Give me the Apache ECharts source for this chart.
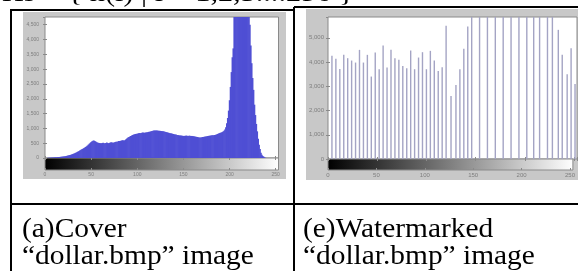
<!DOCTYPE html>
<html><head><meta charset="utf-8">
<script src="https://cdn.jsdelivr.net/npm/echarts@6/dist/echarts.min.js"></script>
<style>html,body{margin:0;padding:0;background:#fff}#c{width:578px;height:271px}</style>
</head><body><div id="c"></div>
<script>
// ---- data ----
// Cover image histogram: counts for gray levels 0..255 (peak above axis top is estimated)
const coverCounts = [
0,0,2,5,8,10,12,14,16,18,
20,22,25,28,30,33,36,40,44,48,
52,56,62,68,75,82,90,100,110,120,
132,145,158,172,188,205,222,240,258,275,
292,310,330,350,372,395,420,450,480,510,
540,565,585,590,575,555,535,520,510,505,
500,498,505,512,500,495,510,520,505,500,
510,525,530,520,515,525,540,550,545,560,
570,575,580,590,600,595,590,610,640,670,
690,710,725,740,760,775,790,800,810,815,
820,830,840,835,845,850,860,855,850,860,
865,870,880,885,890,900,910,920,925,930,
928,930,925,920,918,915,910,905,900,895,
890,880,870,860,850,840,835,830,820,810,
800,795,790,780,775,770,760,760,755,750,
745,745,750,755,750,745,748,750,746,745,
740,735,728,720,715,710,700,692,690,695,
700,705,712,720,725,730,740,745,750,755,
760,765,770,772,778,785,795,810,825,840,
850,860,875,895,920,960,1040,1170,1350,1600,
1950,2400,2900,3400,3700,4900,5600,6200,7000,7800,
8200,8500,8700,8800,8700,8500,8200,7800,7200,6600,
5600,5000,4500,3800,3200,2700,2300,1800,1450,1150,
900,650,450,300,180,110,70,45,20,5,
0,0,0,0,0,0,0,0,0,0,0,0,0,0,0,0
];
// Watermarked image histogram: occupied gray levels and their counts (clipped bars estimated)
const wmLevels = [4,8,12,16,20,24,28,32,36,40,44,48,52,56,60,64,68,72,76,80,84,88,92,96,100,104,108,112,116,120,
  125,130,134,138,142,146,154,162,170,178,186,194,202,209,215,223,228,234,238,243,247,251];
const wmCounts = [4256,4132,3719,4298,4160,4063,3980,4504,3980,4298,3402,4394,3705,4683,3774,4504,4160,4091,3843,3746,4477,3705,4187,4408,3705,4463,4063,3636,3788,5496,
  2603,3058,3705,4545,5468,6500,6500,6500,6500,6500,6500,6500,6500,6500,6500,6500,6500,5330,4298,3500,4574,3099];
const xTicks = [0,50,100,150,200,250];
const coverYTicks = [0,500,1000,1500,2000,2500,3000,3500,4000,4500];
const wmYTicks = [0,1000,2000,3000,4000,5000];
const topText = 'Hs = { h(i) | i = 1,2,3....256 }';
const captions = [['(a)Cover','\u201Cdollar.bmp\u201D image'],['(e)Watermarked','\u201Cdollar.bmp\u201D image']];

// ---- chart ----
const chart = echarts.init(document.getElementById('c'), null, {renderer:'canvas'});
const AX = '#8a8a8a', LAB = '#7e7e7e';
const lblFont = {fontFamily:'Liberation Sans', color:LAB};
function xAx(grid, opts){
  return Object.assign({type:'value', gridIndex:grid, min:0, max:253, interval:50,
    axisLine:{show:false}, splitLine:{show:false},
    axisTick:{show:true, inside:true, length:2, lineStyle:{color:AX}},
    axisLabel:{show:false}}, opts||{});
}
function yAx(grid, opts){
  return Object.assign({type:'value', gridIndex:grid, axisLine:{show:false}, splitLine:{show:false},
    axisTick:{show:true, inside:true, length:2, lineStyle:{color:AX}}, axisLabel:{show:false}}, opts||{});
}
const bw = {show:true, borderColor:AX, borderWidth:1};
const grad = new echarts.graphic.LinearGradient(0,0,1,0,[{offset:0,color:'#000'},{offset:1,color:'#fff'}]);
const option = {
  animation:false,
  backgroundColor:'#fff',
  grid:[
    Object.assign({left:45, top:17, width:233.5, height:141, backgroundColor:'#fff'}, bw),
    Object.assign({left:45, top:158, width:233.5, height:12, backgroundColor:grad}, bw),
    Object.assign({left:328, top:17, width:249, height:142, backgroundColor:'#fff'}, bw),
    Object.assign({left:328, top:159, width:249, height:11, backgroundColor:grad}, bw)
  ],
  xAxis:[
    xAx(0,{position:'bottom'}),
    xAx(0,{position:'top'}),
    xAx(1,{position:'bottom', axisLabel:{show:true, fontSize:5, margin:2, showMaxLabel:false, ...lblFont}}),
    xAx(2,{position:'bottom'}),
    xAx(2,{position:'top'}),
    xAx(3,{position:'bottom', axisLabel:{show:true, fontSize:6, margin:2, showMaxLabel:false, ...lblFont}})
  ],
  yAxis:[
    yAx(0,{min:0, max:4760, interval:500, position:'left', axisLabel:{show:true, fontSize:5, margin:6, showMaxLabel:false, ...lblFont}}),
    yAx(0,{min:0, max:4760, interval:500, position:'right'}),
    yAx(1,{min:0, max:1, axisTick:{show:false}}),
    yAx(2,{min:0, max:5860, interval:1000, position:'left', axisLabel:{show:true, fontSize:6, margin:4, showMaxLabel:false, ...lblFont}}),
    yAx(2,{min:0, max:5860, interval:1000, position:'right'}),
    yAx(3,{min:0, max:1, axisTick:{show:false}})
  ],
  series:[
    {type:'bar', xAxisIndex:0, yAxisIndex:0, barWidth:1.6, clip:true,
     itemStyle:{color:'#4f4fd4'}, data:coverCounts.map((v,i)=>[i,v])},
    {type:'bar', xAxisIndex:3, yAxisIndex:3, barWidth:1.4, clip:true,
     itemStyle:{color:'#a4a4c4'}, data:wmLevels.map((l,i)=>[l,wmCounts[i]])}
  ]
};
chart.setOption(option);

// figure panels, table rules and text (decoration)
const g = [];
g.push({type:'rect', z:-10, silent:true, shape:{x:23,y:12,width:263,height:167}, style:{fill:'#c8c8c8'}});
g.push({type:'rect', z:-10, silent:true, shape:{x:306,y:9,width:272,height:171}, style:{fill:'#c8c8c8'}});
function line(x1,y1,x2,y2){g.push({type:'line', z:-20, silent:true, shape:{x1,y1,x2,y2}, style:{stroke:'#000', lineWidth:2}});}
line(10,10,295,10); line(294,7,578,7);
line(11,10,11,271); line(294,7,294,271);
line(10,204,578,204);
function txt(s,x,y,sx){g.push({type:'text', silent:true, x:x, y:y, scaleX:sx, z:10,
  style:{text:s, x:0, y:0, fontSize:28, fontFamily:'Liberation Serif', fill:'#000', verticalAlign:'middle', align:'left'}});}
txt(topText, 2, -6, 1.08);
txt(captions[0][0], 22, 230, 1.05); txt(captions[0][1], 22, 257, 1.05);
txt(captions[1][0], 303, 230, 1.05); txt(captions[1][1], 303, 257, 1.05);
chart.setOption({graphic:g});
</script></body></html>
